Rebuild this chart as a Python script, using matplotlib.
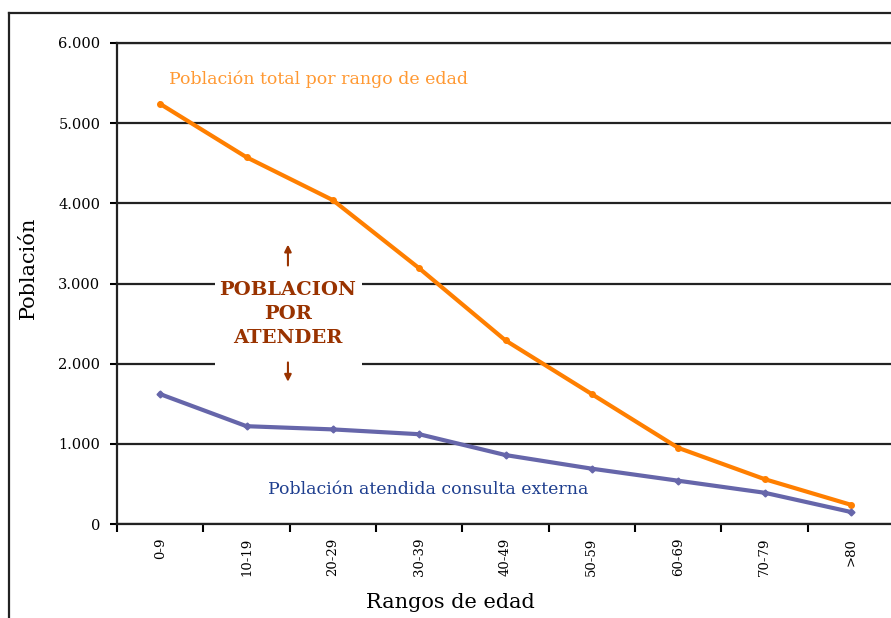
import matplotlib
matplotlib.use("Agg")
import matplotlib.pyplot as plt
from matplotlib.lines import Line2D
from matplotlib.patches import Rectangle
from matplotlib.ticker import FuncFormatter

plt.rcParams["font.family"] = ["DejaVu Serif"]

rangos = ["0-9", "10-19", "20-29", "30-39", "40-49", "50-59", "60-69", "70-79", ">80"]
poblacion_total = [5240, 4575, 4040, 3190, 2290, 1620, 950, 560, 240]
poblacion_atendida = [1620, 1220, 1180, 1120, 860, 690, 540, 390, 150]

ORANGE = "#FF7F00"
ORANGE_TXT = "#FF9933"
SLATE = "#6666AA"
BLUE_TXT = "#1F3F8F"
BROWN = "#993300"

fig = plt.figure(figsize=(8.91, 6.18), dpi=100)
ax = fig.add_axes([117 / 891, 1 - 524 / 618, 777 / 891, 481 / 618])

x = list(range(len(rangos)))
ax.plot(x, poblacion_total, color=ORANGE, lw=3, marker="o", ms=4, zorder=4)
ax.plot(x, poblacion_atendida, color=SLATE, lw=3, marker="D", ms=3.5, zorder=4)

ax.set_xlim(-0.5, len(rangos) - 0.5)
ax.set_ylim(0, 6000)
ax.set_yticks(range(0, 6001, 1000))
ax.yaxis.set_major_formatter(FuncFormatter(lambda v, p: f"{int(v):,}".replace(",", ".")))
ax.set_xticks([i - 0.5 for i in range(len(rangos) + 1)])
ax.set_xticklabels([])
ax.set_xticks(x, minor=True)
ax.set_xticklabels(rangos, minor=True, rotation=90, va="top", ha="center", fontsize=9.5)
ax.tick_params(axis="x", which="minor", length=0, pad=10)
ax.tick_params(axis="x", which="major", length=6, width=1.5, direction="out")
ax.tick_params(axis="y", length=5, width=1.5, pad=7, labelsize=10.5)

ax.grid(axis="y", color="#222222", lw=1.6, zorder=1)
for side in ["left", "bottom", "top"]:
    ax.spines[side].set_linewidth(1.6)
    ax.spines[side].set_color("#222222")
ax.spines["right"].set_visible(False)

ax.set_ylabel("Población", fontsize=15)
ax.yaxis.set_label_coords(-0.1017, 0.532)
ax.set_xlabel("Rangos de edad", fontsize=15)
ax.xaxis.set_label_coords(0.4286, -0.143)

ax.text(0.1, 5550, "Población total por rango de edad", color=ORANGE_TXT, fontsize=12.5, va="center", ha="left")
ax.text(1.25, 430, "Población atendida consulta externa", color=BLUE_TXT, fontsize=12.5, va="center", ha="left")

# white box over grid lines behind the annotation
ax.add_patch(Rectangle((0.635, 1960), 1.70, 1120, facecolor="white", edgecolor="none", zorder=2))
ax.text(1.48, 2620, "POBLACION\nPOR\nATENDER", color=BROWN, fontsize=14, fontweight="bold",
        ha="center", va="center", linespacing=1.4, zorder=3)
ax.annotate("", xy=(1.48, 3520), xytext=(1.48, 3190),
            arrowprops=dict(arrowstyle="-|>", color=BROWN, lw=1.5, mutation_scale=10), zorder=3)
ax.annotate("", xy=(1.48, 1740), xytext=(1.48, 2050),
            arrowprops=dict(arrowstyle="-|>", color=BROWN, lw=1.5, mutation_scale=10), zorder=3)

# outer frame (cut at right and bottom)
fig.add_artist(Line2D([9 / 891, 9 / 891], [0, 1 - 13 / 618], color="#222222", lw=1.6))
fig.add_artist(Line2D([9 / 891, 1], [1 - 13 / 618, 1 - 13 / 618], color="#222222", lw=1.6))

fig.savefig("out.png", dpi=100, facecolor="white")
